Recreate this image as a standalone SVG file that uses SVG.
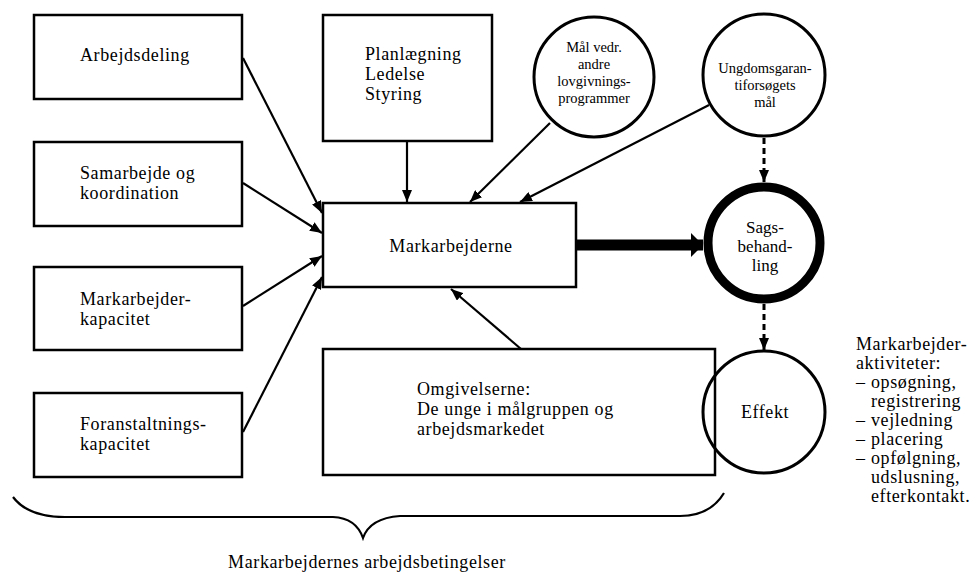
<svg xmlns="http://www.w3.org/2000/svg" width="979" height="572" viewBox="0 0 979 572">
<defs>
<style>
.box{fill:#fff;stroke:#000;stroke-width:2.5}
.circ{fill:#fff;stroke:#000;stroke-width:3}
.t{font-family:"Liberation Serif","Times New Roman",serif;font-size:18px;letter-spacing:0.6px;fill:#000}
.ts{font-family:"Liberation Serif","Times New Roman",serif;font-size:14.5px;fill:#000}
.tm{font-family:"Liberation Serif","Times New Roman",serif;font-size:17px;fill:#000}
.c{text-anchor:middle}
.ln{fill:none;stroke:#000;stroke-width:2.2}
.dash{fill:none;stroke:#000;stroke-width:3;stroke-dasharray:6 4}
</style>
<marker id="ah" viewBox="0 0 12 10" refX="12" refY="5" markerWidth="12" markerHeight="10" markerUnits="userSpaceOnUse" orient="auto">
<path d="M0,0 L12,5 L0,10 Z" fill="#000"/>
</marker>
<marker id="ahb" viewBox="0 0 12 24" refX="12" refY="12" markerWidth="12" markerHeight="24" markerUnits="userSpaceOnUse" orient="auto">
<path d="M0,0 L12,12 L0,24 Z" fill="#000"/>
</marker>
</defs>
<rect width="979" height="572" fill="#fff"/>

<g id="connectors">
<line class="ln" x1="243" y1="58" x2="322" y2="213" marker-end="url(#ah)"/>
<line class="ln" x1="243" y1="183" x2="322" y2="233" marker-end="url(#ah)"/>
<line class="ln" x1="243" y1="306" x2="322" y2="256" marker-end="url(#ah)"/>
<line class="ln" x1="243" y1="432" x2="322" y2="277" marker-end="url(#ah)"/>
<line class="ln" x1="407" y1="141" x2="407" y2="202" marker-end="url(#ah)"/>
<line class="ln" x1="550" y1="123" x2="470" y2="202" marker-end="url(#ah)"/>
<line class="ln" x1="709" y1="105" x2="520" y2="202" marker-end="url(#ah)"/>
<line class="ln" x1="521" y1="349" x2="451" y2="289" marker-end="url(#ah)"/>
<line x1="576" y1="245" x2="703" y2="245" stroke="#000" stroke-width="11" marker-end="url(#ahb)"/>
<line class="dash" x1="764" y1="138" x2="764" y2="182" marker-end="url(#ah)"/>
<line class="dash" x1="764" y1="304" x2="764" y2="350" marker-end="url(#ah)"/>
</g>

<g id="arbejdsdeling"><rect class="box" x="34" y="15" width="208" height="84"/><text class="t" x="80" y="61">Arbejdsdeling</text></g>
<g id="samarbejde"><rect class="box" x="34" y="142" width="208" height="84"/><text class="t" x="80" y="179">Samarbejde og</text><text class="t" x="80" y="199">koordination</text></g>
<g id="markarbejderkapacitet"><rect class="box" x="34" y="267" width="208" height="83"/><text class="t" x="80" y="305">Markarbejder-</text><text class="t" x="80" y="325">kapacitet</text></g>
<g id="foranstaltning"><rect class="box" x="34" y="393" width="208" height="84"/><text class="t" x="80" y="430">Foranstaltnings-</text><text class="t" x="80" y="450">kapacitet</text></g>
<g id="planlaegning"><rect class="box" x="323" y="15" width="169" height="126"/><text class="t" x="365" y="60">Planlægning</text><text class="t" x="365" y="80">Ledelse</text><text class="t" x="365" y="100">Styring</text></g>
<g id="markarbejderne"><rect class="box" x="323" y="203" width="253" height="84"/><text class="t c" x="451" y="252">Markarbejderne</text></g>
<g id="omgivelserne"><rect class="box" x="323" y="349" width="392" height="126"/><text class="t" x="417" y="395">Omgivelserne:</text><text class="t" x="417" y="415">De unge i målgruppen og</text><text class="t" x="417" y="435">arbejdsmarkedet</text></g>
<g id="maal"><circle class="circ" cx="594" cy="77" r="60"/><text class="ts c" x="594" y="52">Mål vedr.</text><text class="ts c" x="594" y="69">andre</text><text class="ts c" x="594" y="86">lovgivnings-</text><text class="ts c" x="594" y="103">programmer</text></g>
<g id="ungdom"><circle class="circ" cx="764" cy="75" r="61"/><text class="ts c" x="765" y="73">Ungdomsgaran-</text><text class="ts c" x="765" y="90">tiforsøgets</text><text class="ts c" x="765" y="107">mål</text></g>
<g id="sagsbehandling"><circle cx="764" cy="243" r="56" fill="#fff" stroke="#000" stroke-width="9"/><text class="tm c" x="765" y="233">Sags-</text><text class="tm c" x="765" y="252">behand-</text><text class="tm c" x="765" y="271">ling</text></g>
<g id="effekt"><circle cx="764" cy="412" r="61" fill="none" stroke="#000" stroke-width="3"/><text class="t c" x="765" y="418">Effekt</text></g>

<g id="brace"><path class="ln" d="M13,497 Q28,517 65,517 L333,517 Q356,518 363,538 Q370,518 400,516 L680,516 Q710,516 724,493"/><text class="t c" x="367" y="568">Markarbejdernes arbejdsbetingelser</text></g>

<g id="aktiviteter">
<text class="t" x="856" y="350">Markarbejder-</text>
<text class="t" x="856" y="369">aktiviteter:</text>
<text class="t" x="856" y="388">–</text><text class="t" x="871" y="388">opsøgning,</text>
<text class="t" x="871" y="407">registrering</text>
<text class="t" x="856" y="426">–</text><text class="t" x="871" y="426">vejledning</text>
<text class="t" x="856" y="445">–</text><text class="t" x="871" y="445">placering</text>
<text class="t" x="856" y="464">–</text><text class="t" x="871" y="464">opfølgning,</text>
<text class="t" x="871" y="483">udslusning,</text>
<text class="t" x="871" y="502">efterkontakt.</text>
</g>
</svg>
